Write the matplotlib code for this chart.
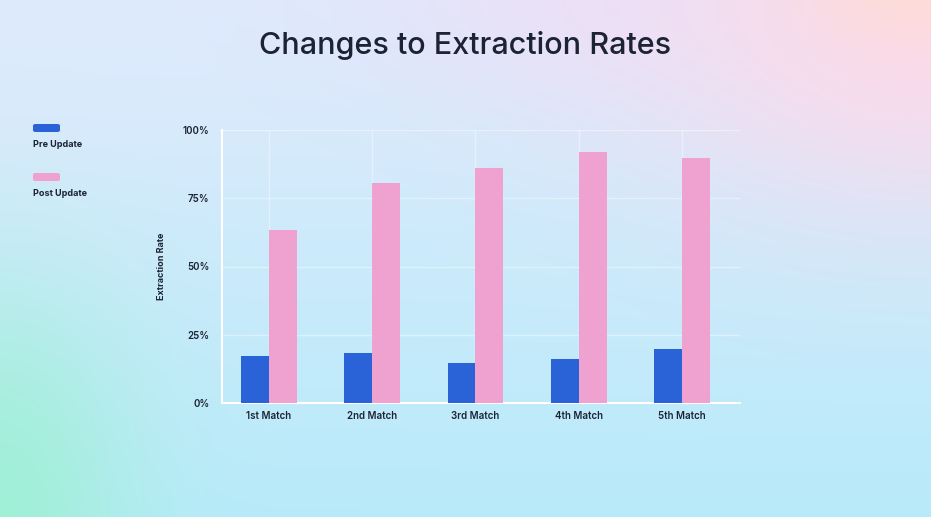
import numpy as np
import matplotlib
matplotlib.use("Agg")
import matplotlib.pyplot as plt
from matplotlib.patches import FancyBboxPatch

# ---- data ----
categories = ["1st Match", "2nd Match", "3rd Match", "4th Match", "5th Match"]
pre_update = [17.2, 18.3, 14.7, 16.1, 19.8]
post_update = [63.4, 80.6, 86.1, 91.9, 89.7]
yticks = [0, 25, 50, 75, 100]
ytick_labels = ["0%", "25%", "50%", "75%", "100%"]
series_names = ["Pre Update", "Post Update"]

BLUE = "#2A62D8"
PINK = "#EFA1D0"
TEXT = "#1C2333"

plt.rcParams['font.family'] = ['Inter', 'DejaVu Sans']

W, H = 931, 517
fig = plt.figure(figsize=(W / 100, H / 100), dpi=100)

# ---- background gradient ----
bg = fig.add_axes([0, 0, 1, 1], zorder=-10)
yy, xx = np.mgrid[0:1:300j, 0:1:540j]  # yy: 0 top -> 1 bottom
top = np.array([0.87, 0.92, 0.99])
bottom = np.array([0.72, 0.92, 0.98])
img = top[None, None, :] * (1 - yy[..., None]) + bottom[None, None, :] * yy[..., None]

def blob(cx, cy, rx, ry, color, strength):
    global img
    d = ((xx - cx) / rx) ** 2 + ((yy - cy) / ry) ** 2
    w = strength * np.exp(-d)[..., None]
    img = img * (1 - w) + np.array(color)[None, None, :] * w

blob(0.65, 0.0, 0.3, 0.22, (0.93, 0.87, 0.97), 0.7)    # lavender top
blob(1.0, 0.08, 0.3, 0.35, (0.99, 0.85, 0.92), 0.9)    # pink top right
blob(1.0, -0.05, 0.14, 0.14, (1.0, 0.86, 0.83), 0.9)   # peach corner
blob(0.0, 1.0, 0.14, 0.45, (0.62, 0.94, 0.83), 0.9)    # mint bottom left
blob(0.0, 0.0, 0.35, 0.35, (0.87, 0.92, 0.99), 0.7)    # light blue top left
img = np.clip(img, 0, 1)
bg.imshow(img, aspect="auto", extent=[0, 1, 0, 1], origin="upper")
bg.set_axis_off()

# ---- main axes ----
ax = fig.add_axes([222 / W, 1 - 403 / H, (740 - 222) / W, (403 - 130) / H])
ax.patch.set_alpha(0)
x = np.arange(len(categories))
bw = 0.27
ax.bar(x - bw / 2, pre_update, width=bw, color=BLUE, zorder=3)
ax.bar(x + bw / 2, post_update, width=bw, color=PINK, zorder=3)

ax.set_xlim(-0.455, 4.562)
ax.set_ylim(0, 100)
ax.set_yticks(yticks)
ax.set_yticklabels(ytick_labels)
ax.set_xticks(x)
ax.set_xticklabels(categories)
ax.tick_params(axis="both", length=0, labelsize=7, colors=TEXT)
ax.tick_params(axis="x", pad=6)
ax.tick_params(axis="y", pad=9)
for lbl in ax.get_xticklabels() + ax.get_yticklabels():
    lbl.set_fontweight("semibold")
ax.grid(True, color="white", alpha=0.4, linewidth=1.0, zorder=0)
for side in ["top", "right"]:
    ax.spines[side].set_visible(False)
for side in ["left", "bottom"]:
    ax.spines[side].set_color("white")
    ax.spines[side].set_linewidth(1.5)
ax.set_ylabel("Extraction Rate", fontsize=6.5, fontweight="bold", color=TEXT, labelpad=12)

# ---- title ----
fig.text(465 / W, 1 - 45 / H, "Changes to Extraction Rates", ha="center", va="center",
         fontsize=22, fontweight="medium", color=TEXT)

# ---- legend ----
colors = [BLUE, PINK]
ys = [128, 177]
for name, c, yc in zip(series_names, colors, ys):
    fig.patches.append(FancyBboxPatch((33 / W, 1 - (yc + 4) / H), 27 / W, 8 / H,
                                      boxstyle="round,pad=0,rounding_size=0.003",
                                      transform=fig.transFigure, facecolor=c,
                                      edgecolor="none"))
    fig.text(33 / W, 1 - (yc + 17) / H, name, ha="left", va="center", fontsize=6.5,
             fontweight="bold", color=TEXT)

fig.savefig("out.png", dpi=100)
